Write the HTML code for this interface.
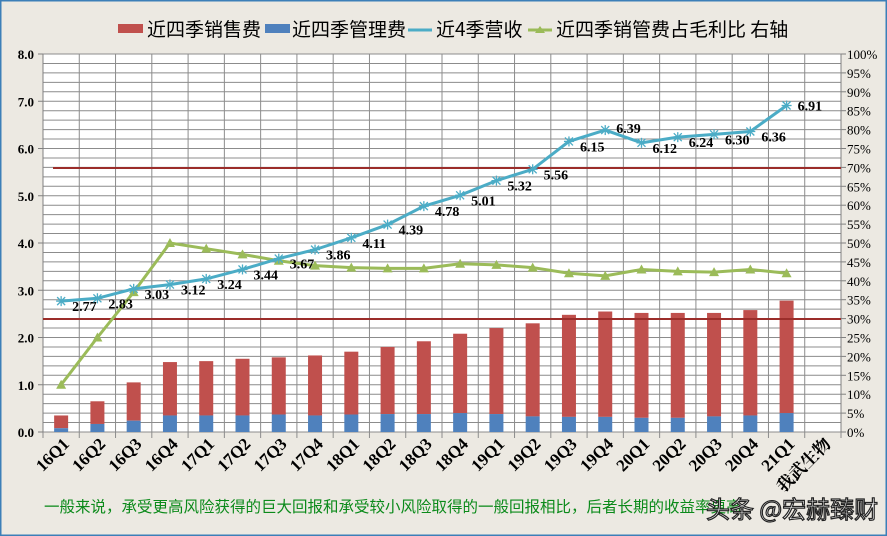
<!DOCTYPE html>
<html><head><meta charset="utf-8"><style>
html,body{margin:0;padding:0;background:#ECE9E2;}
svg{display:block}
</style></head><body>
<svg id="s" width="887" height="536" xmlns="http://www.w3.org/2000/svg" font-family="'Liberation Serif','Noto Serif CJK SC',serif"></svg>
<script>
const s=document.getElementById('s');
let h='';
h+='<rect x="0.5" y="0.5" width="886" height="535" fill="#ECE9E2" stroke="#3C7FB8" stroke-width="2"/>';
const L=43,R=841,T=54,B=432,n=22,cw=(R-L)/n,py=(B-T)/8;
const Y=v=>B-v*py, X=i=>L+cw*(i+0.5);
h+=`<rect x="${L}" y="${T}" width="${R-L}" height="${B-T}" fill="#fff"/>`;
for(let k=0;k<=40;k++){const y=B-k*py/5;h+=`<line x1="${L}" x2="${R}" y1="${y}" y2="${y}" stroke="#8c8c8c" stroke-width="1"/>`;}
for(let i=0;i<=n;i++){const x=L+i*cw;h+=`<line x1="${x}" x2="${x}" y1="${T}" y2="${B+6}" stroke="#8c8c8c" stroke-width="1"/>`;}
h+=`<line x1="${L}" x2="${L}" y1="${T}" y2="${B}" stroke="#808080"/><line x1="${R}" x2="${R}" y1="${T}" y2="${B}" stroke="#808080"/>`;
for(let k=0;k<=8;k++){const y=Y(k);h+=`<line x1="${L-5}" x2="${L}" y1="${y}" y2="${y}" stroke="#808080"/><text x="${L-9}" y="${y+5}" font-size="13" font-weight="bold" text-anchor="end">${k.toFixed(1)}</text>`;}
for(let k=0;k<=20;k++){const y=B-k*(B-T)/20;h+=`<line x1="${R}" x2="${R+5}" y1="${y}" y2="${y}" stroke="#808080"/><text x="${R+6}" y="${y+5}" font-size="13">${k*5}%</text>`;}
const cats=['16Q1','16Q2','16Q3','16Q4','17Q1','17Q2','17Q3','17Q4','18Q1','18Q2','18Q3','18Q4','19Q1','19Q2','19Q3','19Q4','20Q1','20Q2','20Q3','20Q4','21Q1','我武生物'];
const tot=[0.35,0.65,1.05,1.48,1.50,1.55,1.58,1.62,1.70,1.80,1.92,2.08,2.20,2.30,2.48,2.55,2.52,2.52,2.52,2.58,2.78];
const blu=[0.08,0.17,0.24,0.35,0.35,0.35,0.37,0.35,0.37,0.38,0.38,0.40,0.38,0.33,0.32,0.32,0.30,0.30,0.33,0.35,0.40];
for(let i=0;i<21;i++){const x=X(i)-7;h+=`<rect x="${x}" y="${Y(tot[i])}" width="14" height="${(tot[i]-blu[i])*py}" fill="#C0504D"/><rect x="${x}" y="${Y(blu[i])}" width="14" height="${blu[i]*py}" fill="#4F81BD"/>`;}
h+=`<line x1="53" x2="${R}" y1="168" y2="168" stroke="#9B2D2A" stroke-width="2"/><line x1="${L}" x2="${R}" y1="319" y2="319" stroke="#9B2D2A" stroke-width="2"/>`;
const pct=[12.5,25,37,50,48.5,47,45.3,44,43.5,43.3,43.3,44.5,44.2,43.5,42,41.3,43,42.5,42.3,43,42];
let p=pct.map((v,i)=>X(i)+','+Y(v*0.08)).join(' ');
h+=`<polyline points="${p}" fill="none" stroke="#9BBB59" stroke-width="3"/>`;
pct.forEach((v,i)=>{const x=X(i),y=Y(v*0.08);h+=`<polygon points="${x-5},${y+4} ${x+5},${y+4} ${x},${y-5}" fill="#9BBB59"/>`;});
const rev=[2.77,2.83,3.03,3.12,3.24,3.44,3.67,3.86,4.11,4.39,4.78,5.01,5.32,5.56,6.15,6.39,6.12,6.24,6.30,6.36,6.91];
p=rev.map((v,i)=>X(i)+','+Y(v)).join(' ');
h+=`<polyline points="${p}" fill="none" stroke="#4BACC6" stroke-width="3"/>`;
rev.forEach((v,i)=>{const x=X(i),y=Y(v);h+=`<g stroke="#4BACC6" stroke-width="1.3"><line x1="${x-5}" x2="${x+5}" y1="${y}" y2="${y}"/><line x1="${x-4}" x2="${x+4}" y1="${y-4}" y2="${y+4}"/><line x1="${x-4}" x2="${x+4}" y1="${y+4}" y2="${y-4}"/><line x1="${x}" x2="${x}" y1="${y-5}" y2="${y+5}"/></g>`;
 let dy=i==15?3:(i==20?5:10);
 h+=`<text x="${x+11}" y="${y+dy}" font-size="14" font-weight="bold">${v.toFixed(2)}</text>`;});
cats.forEach((c,i)=>{const x=X(i)+9,y=B+13;h+=`<text x="${x}" y="${y}" font-size="17" font-weight="bold" text-anchor="end" transform="rotate(-45 ${x} ${y})">${c}</text>`;});
const F="font-family=\"'Noto Sans CJK SC',sans-serif\"";
h+=`<rect x="118" y="24" width="25" height="9" fill="#C0504D"/><text x="147" y="36" font-size="19" ${F}>近四季销售费</text>`;
h+=`<rect x="265" y="24" width="25" height="9" fill="#4F81BD"/><text x="292" y="36" font-size="19" ${F}>近四季管理费</text>`;
h+=`<line x1="408" x2="432" y1="30" y2="30" stroke="#4BACC6" stroke-width="3"/><text x="436" y="36" font-size="19" ${F}>近4季营收</text>`;
h+=`<line x1="528" x2="552" y1="30" y2="30" stroke="#9BBB59" stroke-width="3"/><polygon points="535,33 545,33 540,26" fill="#9BBB59"/><text x="556" y="36" font-size="19" ${F}>近四季销管费占毛利比 右轴</text>`;
h+=`<text x="44" y="512" font-size="15.5" fill="#0B8A1A" ${F}>一般来说，承受更高风险获得的巨大回报和承受较小风险取得的一般回报相比，后者长期的收益率更高</text>`;
h+=`<text x="706" y="518" font-size="24" fill="#fff" stroke="#222" stroke-width="1.2" ${F}>头条 @宏赫臻财</text>`;
s.innerHTML=h;
</script>
</body></html>
